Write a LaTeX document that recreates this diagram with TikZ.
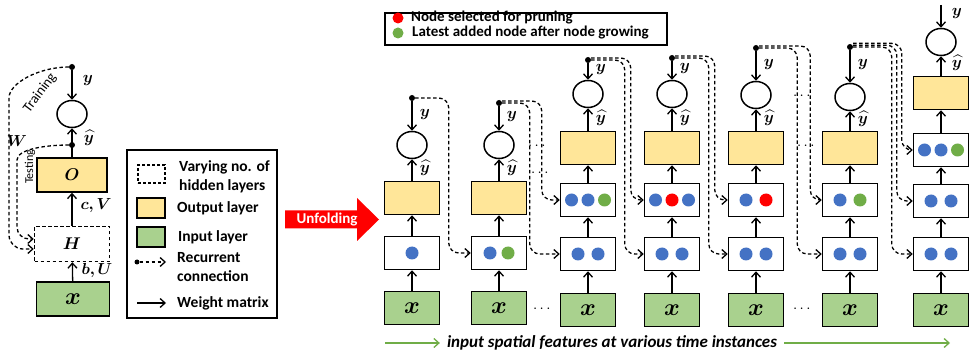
\RequirePackage{fix-cm}
\documentclass[tikz,border=0pt]{standalone}
\usepackage{amsmath}
\usepackage{bm}
\usepackage{fontspec}
\setmainfont{Carlito}
\usetikzlibrary{arrows.meta,shapes,positioning,calc}

\definecolor{outfill}{HTML}{FFE699}
\definecolor{infill}{HTML}{A9D18E}
\definecolor{unitblue}{HTML}{4472C4}
\definecolor{unitgreen}{HTML}{70AD47}

\tikzset{
  layer/.style={draw, line width=1.5pt, minimum width=55pt, minimum height=33pt, inner sep=0pt},
  outlayer/.style={layer, fill=outfill},
  inlayer/.style={layer, fill=infill, font=\fontsize{24}{24}\selectfont},
  hidlayer/.style={layer, fill=white},
  outcirc/.style={draw, ellipse, line width=1.5pt, minimum width=30pt, minimum height=27pt, inner sep=0pt},
  wmat/.style={-{Straight Barb[length=5pt,width=9pt]}, line width=1.3pt},
  recur/.style={-{Straight Barb[length=5pt,width=9pt]}, line width=1.3pt, dash pattern=on 3.5pt off 2.5pt, rounded corners=10pt},
  garr/.style={-{Straight Barb[length=5pt,width=9pt]}, line width=1.3pt, unitgreen},
  tap/.style={circle, fill, inner sep=0pt, minimum size=6pt},
  unit/.style={circle, inner sep=0pt, minimum size=13pt},
  lab/.style={inner sep=0pt, font=\fontsize{16}{16}\selectfont},
  txt/.style={inner sep=0pt, font=\fontsize{15.5}{19}\selectfont\bfseries, align=left},
  dots/.style={inner sep=0pt, font=\fontsize{15}{15}\selectfont},
}

\begin{document}
\begin{tikzpicture}[x=1pt, y=-1pt]
\useasboundingbox (0,0) rectangle (973,352);

% folded network
\node[inlayer, minimum width=73pt, minimum height=34pt] (xL) at (73,299) {$\bm{x}$};
\node[hidlayer, dash pattern=on 3.5pt off 2.5pt, minimum width=75pt, minimum height=35pt, font=\fontsize{17}{17}\selectfont] (hL) at (72,244) {$\bm{H}$};
\node[outlayer, minimum width=70pt, minimum height=34pt, font=\fontsize{17}{17}\selectfont] (oL) at (72,175) {$\bm{O}$};
\node[outcirc] (cL) at (72,114) {};
\node[tap] (tL) at (72,67) {};
\node[tap] (sL) at (72,145) {};
\draw[wmat] (xL) -- (hL);
\draw[wmat] (hL) -- (oL);
\draw[wmat] (oL) -- (cL);
\draw[wmat] (tL) -- (cL);
\draw[recur, rounded corners=14pt] (tL) to[out=180,in=90] (9,112) |- ([yshift=-5pt]hL.west);
\draw[recur, rounded corners=12pt] (sL) to[out=180,in=90] (17,172) |- ([yshift=5pt]hL.west);
\node[lab] (lyL) at (88,81) {$\bm{y}$};
\node[lab] (lhL) at (89,138) {$\bm{\widehat{y}}$};
\node[lab] (lcv) at (96,206) {$\bm{c,V}$};
\node[lab] (lbu) at (97,271) {$\bm{b,U}$};
\node[lab] (lw) at (17,141) {$\bm{W}$};
\node[inner sep=0pt, font=\fontsize{14}{14}\selectfont, rotate=53] (trn) at (40,93) {Training};
\node[inner sep=0pt, font=\fontsize{12}{12}\selectfont, rotate=90] (tst) at (30,167) {Testing};

% legend
\node[draw, line width=1.3pt, minimum width=150pt, minimum height=168pt] (leg) at (202,234) {};
\node[draw, line width=1.3pt, dash pattern=on 3pt off 2pt, minimum width=27pt, minimum height=18pt, inner sep=0pt] (k1) at (151.5,174) {};
\node[draw, line width=1.3pt, fill=outfill, minimum width=28pt, minimum height=20pt, inner sep=0pt] (k2) at (151,208) {};
\node[draw, line width=1.3pt, fill=infill, minimum width=28pt, minimum height=20pt, inner sep=0pt] (k3) at (151,237) {};
\node[tap, minimum size=5pt] (k4) at (137,262) {};
\coordinate (k4e) at (166,262);
\draw[recur] (k4) -- (k4e);
\coordinate (k5s) at (137,303);
\coordinate (k5e) at (166,303);
\draw[wmat] (k5s) -- (k5e);
\node[txt, anchor=west] (lt1) at (179,177) {Varying no. of\\hidden layers};
\node[txt, anchor=west] (lt2) at (177,208) {Output layer};
\node[txt, anchor=west] (lt3) at (178,237) {Input layer};
\node[txt, anchor=west] (lt4) at (177,267) {Recurrent\\connection};
\node[txt, anchor=west] (lt5) at (177,303) {Weight matrix};

% unfolding arrow
\fill[red] (285,210.5) -- (357,210.5) -- (357,198) -- (379,219.5) -- (357,241) -- (357,228.5) -- (285,228.5) -- cycle;
\node[inner sep=0pt, text=white, font=\fontsize{15}{15}\selectfont\bfseries] (unf) at (327,219.5) {Unfolding};

\node[draw, line width=1.3pt, minimum width=282pt, minimum height=32pt] (leg2) at (526,29) {};
\node[unit, fill=red, minimum size=11pt] (kr) at (398,18) {};
\node[unit, fill=unitgreen, minimum size=11pt] (kg) at (398,33) {};
\node[txt, anchor=west, font=\fontsize{15}{15}\selectfont\bfseries] (lt6) at (411,18) {Node selected for pruning};
\node[txt, anchor=west, font=\fontsize{15}{15}\selectfont\bfseries] (lt7) at (412,33) {Latest added node after node growing};

% unfolded in time
\foreach \i/\cx/\ty in {1/412/98, 2/499/103} {
  \node[inlayer] (x\i) at (\cx,308) {$\bm{x}$};
  \node[hidlayer] (h\i1) at (\cx,253) {};
  \node[outlayer] (o\i) at (\cx,198) {};
  \node[outcirc] (c\i) at (\cx,145) {};
  \node[tap] (t\i) at (\cx,\ty) {};
  \draw[wmat] (x\i) -- (h\i1);
  \draw[wmat] (h\i1) -- (o\i);
  \draw[wmat] (o\i) -- (c\i);
  \draw[wmat] (t\i) -- (c\i);
  \node[lab] (ly\i) at ($(t\i)!.5!(c\i.north)+(13,0)$) {$\bm{y}$};
  \node[lab] (lh\i) at ($(o\i.north)!.5!(c\i.south)+(13,-2)$) {$\bm{\widehat{y}}$};
}
\foreach \i/\cx/\ty/\cy in {3/588/60/94, 4/672/58/94, 5/756/48/95, 6/850/47/97} {
  \node[inlayer] (x\i) at (\cx,310) {$\bm{x}$};
  \node[hidlayer] (h\i1) at (\cx,254) {};
  \node[hidlayer] (h\i2) at (\cx,200) {};
  \node[outlayer] (o\i) at (\cx,148) {};
  \node[outcirc] (c\i) at (\cx,\cy) {};
  \node[tap] (t\i) at (\cx,\ty) {};
  \draw[wmat] (x\i) -- (h\i1);
  \draw[wmat] (h\i1) -- (h\i2);
  \draw[wmat] (h\i2) -- (o\i);
  \draw[wmat] (o\i) -- (c\i);
  \draw[wmat] (t\i) -- (c\i);
  \node[lab] (ly\i) at ($(t\i)!.5!(c\i.north)+(13,0)$) {$\bm{y}$};
  \node[lab] (lh\i) at ($(o\i.north)!.5!(c\i.south)+(13,-2)$) {$\bm{\widehat{y}}$};
}
\node[inlayer] (x7) at (941,310) {$\bm{x}$};
\node[hidlayer] (h71) at (941,254) {};
\node[hidlayer] (h72) at (941,201) {};
\node[hidlayer] (h73) at (941,150) {};
\node[outlayer] (o7) at (941,93) {};
\node[outcirc] (c7) at (941,42) {};
\coordinate (t7) at (941,5);
\draw[wmat] (x7) -- (h71);
\draw[wmat] (h71) -- (h72);
\draw[wmat] (h72) -- (h73);
\draw[wmat] (h73) -- (o7);
\draw[wmat] (o7) -- (c7);
\draw[wmat] (t7) -- (c7);
\node[lab] (ly7) at (957,14) {$\bm{y}$};
\node[lab] (lh7) at (957,63) {$\bm{\widehat{y}}$};

% hidden units
\foreach \b/\dx/\f [count=\k] in {h11/0/unitblue, h21/-9/unitblue, h21/9/unitgreen,
    h31/-10/unitblue, h31/10/unitblue, h32/-16.5/unitblue, h32/0/unitblue, h32/16.5/unitgreen,
    h41/-10/unitblue, h41/10/unitblue, h42/-16.5/unitblue, h42/0/red, h42/16.5/unitblue,
    h51/-10/unitblue, h51/10/unitblue, h52/-10/unitblue, h52/10/red,
    h61/-10/unitblue, h61/10/unitblue, h62/-10/unitblue, h62/10/unitgreen,
    h71/-10/unitblue, h71/10/unitblue, h72/-10/unitblue, h72/10/unitblue,
    h73/-16.5/unitblue, h73/0/unitblue, h73/16.5/unitgreen}
  \node[unit, fill=\f] (u\k) at ($(\b)+(\dx,0)$) {};

% recurrent links
\draw[recur] (t1) -| ([xshift=-22pt]h21.west) -- (h21.west);
\draw[recur] (t2) -| ([xshift=-30pt]h31.west) -- (h31.west);
\draw[recur] ([yshift=2pt]t2.east) -| ([xshift=-18pt]h32.west) -- (h32.west);
\draw[recur] (t3) -| ([xshift=-19pt]h41.west) -- (h41.west);
\draw[recur] ([yshift=2pt]t3.east) -| ([xshift=-13pt]h42.west) -- (h42.west);
\draw[recur] (t4) -| ([xshift=-19pt]h51.west) -- (h51.west);
\draw[recur] ([yshift=2pt]t4.east) -| ([xshift=-13pt]h52.west) -- (h52.west);
\draw[recur] (t5) -| ([xshift=-24.5pt]h61.west) -- (h61.west);
\draw[recur] ([yshift=2pt]t5.east) -| ([xshift=-11.5pt]h62.west) -- (h62.west);
\draw[recur] (t6) -| ([xshift=-21pt]h71.west) -- (h71.west);
\draw[recur] ([yshift=1.8pt]t6.east) -| ([xshift=-16pt]h72.west) -- (h72.west);
\draw[recur] ([yshift=3.6pt]t6.east) -| ([xshift=-11pt]h73.west) -- (h73.west);

\node[dots] (e1) at (538,146) {$\cdots$};
\node[dots] (e2) at (541,173) {$\cdots$};
\node[dots] (e3) at (803,96) {$\cdots$};
\node[dots] (e4) at (807,146) {$\cdots$};
\node[dots] (e5) at (543,309) {$\cdots$};
\node[dots] (e6) at (803,309) {$\cdots$};

\node[inner sep=0pt, font=\fontsize{17}{17}\selectfont\bfseries\itshape] (feat) at (612,343) {input spatial features at various time instances};
\coordinate (gl) at (385,343);
\coordinate (gr) at (950,343);
\draw[garr] (gl) -- ([xshift=-7pt]feat.west);
\draw[garr] ([xshift=7pt]feat.east) -- (gr);
\end{tikzpicture}
\end{document}
